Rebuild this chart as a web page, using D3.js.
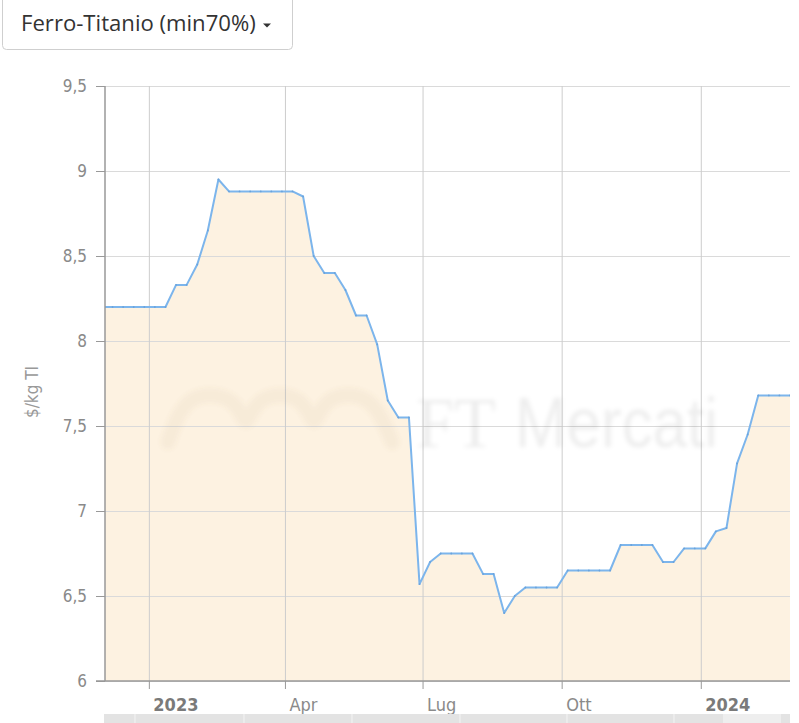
<!DOCTYPE HTML>
<html lang="it">
<head>
	<meta charset="UTF-8">
	<title>Ferro-Titanio | d3</title>
	<style>
		html, body { margin: 0; padding: 0; background: #fff; }
		svg { display: block; }
	</style>
</head>
<body>
<script src="https://d3js.org/d3.v7.min.js"></script>
<script type="text/javascript">
  // prezzi settimanali (giovedi), $/kg TI
  var weekStart = new Date(2022, 11, 1),
      weekEnd   = new Date(2024, 2, 1);

  var prices = [
    8.2, 8.2, 8.2, 8.2, 8.2,                 // dic 2022
    8.2, 8.2, 8.33, 8.33,                    // gen
    8.45, 8.65, 8.95, 8.88,                  // feb
    8.88, 8.88, 8.88, 8.88, 8.88,            // mar
    8.88, 8.85, 8.5, 8.4,                    // apr
    8.4, 8.3, 8.15, 8.15,                    // mag
    7.98, 7.65, 7.55, 7.55, 6.57,            // giu
    6.7, 6.75, 6.75, 6.75,                   // lug
    6.75, 6.63, 6.63, 6.4, 6.5,              // ago
    6.55, 6.55, 6.55, 6.55,                  // set
    6.65, 6.65, 6.65, 6.65,                  // ott
    6.65, 6.8, 6.8, 6.8, 6.8,                // nov
    6.7, 6.7, 6.78, 6.78,                    // dic
    6.78, 6.88, 6.9, 7.28,                   // gen 2024
    7.45, 7.68, 7.68, 7.68, 7.68             // feb
  ];

  var yTicks = [6, 6.5, 7, 7.5, 8, 8.5, 9, 9.5];
  var xTickDates  = [new Date(2023, 0, 1), new Date(2023, 3, 1), new Date(2023, 6, 1),
                     new Date(2023, 9, 1), new Date(2024, 0, 1)];
  var xTickLabels = ['2023', 'Apr', 'Lug', 'Ott', '2024'];
  var xTickBold   = [true, false, false, false, true];

  var weeks = d3.timeThursday.range(weekStart, weekEnd);
  var data = weeks.map(function(d, i) { return { date: d, value: prices[i] }; });

  var W = 799, H = 723,
      pL = 105, pR = 790, pT = 86, pB = 681;

  var it = d3.formatLocale({ decimal: ',', thousands: '.', grouping: [3], currency: ['', '$'] });
  var fmt = it.format('.1~f');

  var x = d3.scaleTime()
      .domain([new Date(2022, 11, 3), new Date(2024, 1, 29)])
      .range([pL, pR]);

  var y = d3.scaleLinear()
      .domain([6, 9.5])
      .range([pB, pT]);

  var axisFont = '"DejaVu Sans Condensed", "DejaVu Sans", sans-serif';

  var svg = d3.select('body').append('svg')
      .attr('width', W)
      .attr('height', H);

  var defs = svg.append('defs');

  defs.append('clipPath').attr('id', 'plot')
    .append('rect')
      .attr('x', pL).attr('y', pT - 2)
      .attr('width', pR - pL).attr('height', pB - pT + 2);

  defs.append('filter').attr('id', 'soft')
      .attr('x', '-10%').attr('y', '-20%').attr('width', '120%').attr('height', '140%')
    .append('feGaussianBlur').attr('stdDeviation', 2.2);

  // area
  var area = d3.area()
      .x(function(d) { return x(d.date); })
      .y0(y(6))
      .y1(function(d) { return y(d.value); });

  svg.append('path')
      .datum(data)
      .attr('clip-path', 'url(#plot)')
      .attr('fill', '#fdf2e1')
      .attr('d', area);

  // griglia
  svg.append('g')
      .attr('transform', 'translate(' + pL + ',0)')
      .call(d3.axisLeft(y).tickValues(yTicks).tickSize(-(pR - pL)).tickFormat(''))
      .call(function(g) {
        g.select('.domain').remove();
        g.selectAll('line').attr('stroke', '#dadada');
      });

  svg.append('g')
      .attr('transform', 'translate(0,' + pT + ')')
      .call(d3.axisBottom(x).tickValues(xTickDates).tickSize(pB - pT).tickFormat(''))
      .call(function(g) {
        g.select('.domain').remove();
        g.selectAll('line').attr('stroke', '#cdcdcd');
      });

  // watermark
  var wm = svg.append('g').attr('filter', 'url(#soft)');

  var hump = d3.line().curve(d3.curveBasis);
  var humpPts = [[168, 442], [182, 402], [210, 392], [238, 402], [246, 430],
                 [254, 402], [280, 392], [306, 402], [314, 430],
                 [322, 402], [348, 392], [376, 402], [392, 442]];
  wm.append('path')
      .attr('d', hump(humpPts))
      .attr('fill', 'none')
      .attr('stroke', 'rgba(150,120,80,0.06)')
      .attr('stroke-width', 15)
      .attr('stroke-linecap', 'round');

  wm.append('text')
      .attr('x', 416).attr('y', 447)
      .attr('textLength', 80).attr('lengthAdjust', 'spacingAndGlyphs')
      .style('font-family', '"Liberation Serif", serif')
      .style('font-size', '72px')
      .attr('fill', 'rgba(0,0,0,0.07)')
      .text('FT');

  wm.append('text')
      .attr('x', 515).attr('y', 447)
      .attr('textLength', 203).attr('lengthAdjust', 'spacingAndGlyphs')
      .style('font-family', '"Liberation Sans", sans-serif')
      .style('font-size', '70px')
      .attr('fill', 'rgba(0,0,0,0.065)')
      .text('Mercati');

  // linea
  var line = d3.line()
      .x(function(d) { return x(d.date); })
      .y(function(d) { return y(d.value); });

  var series = svg.append('g').attr('clip-path', 'url(#plot)');

  series.append('path')
      .datum(data)
      .attr('fill', 'none')
      .attr('stroke', '#7cb5ec')
      .attr('stroke-width', 2)
      .attr('stroke-linejoin', 'round')
      .attr('d', line);

  series.selectAll('circle')
      .data(data)
    .enter().append('circle')
      .attr('cx', function(d) { return x(d.date); })
      .attr('cy', function(d) { return y(d.value); })
      .attr('r', 0.9)
      .attr('fill', '#6aa3db');

  // asse y
  var yAxis = svg.append('g')
      .attr('transform', 'translate(' + pL + ',0)')
      .call(d3.axisLeft(y).tickValues(yTicks).tickSize(9).tickPadding(9).tickFormat(fmt));

  yAxis.select('.domain').attr('stroke', '#999').attr('stroke-width', 1.5)
      .attr('d', 'M0,' + pT + 'V' + pB);
  yAxis.selectAll('.tick line').attr('stroke', '#999');
  yAxis.selectAll('.tick text')
      .attr('fill', '#8a8a8a')
      .style('font-family', axisFont)
      .style('font-size', '17px');

  svg.append('text')
      .attr('transform', 'translate(38,392) rotate(-90)')
      .attr('text-anchor', 'middle')
      .attr('fill', '#999')
      .style('font-family', axisFont)
      .style('font-size', '17px')
      .text('$/kg TI');

  // asse x
  var xAxis = svg.append('g')
      .attr('transform', 'translate(0,' + pB + ')')
      .call(d3.axisBottom(x).tickValues(xTickDates).tickSize(8)
        .tickFormat(function(d, i) { return xTickLabels[i]; }));

  xAxis.select('.domain').attr('stroke', '#999').attr('stroke-width', 1.5)
      .attr('d', 'M96,0H' + pR);
  xAxis.selectAll('.tick line').attr('stroke', '#999');
  xAxis.selectAll('.tick text')
      .attr('text-anchor', 'start')
      .attr('x', 4)
      .attr('y', 30)
      .attr('dy', 0)
      .attr('fill', function(d, i) { return xTickBold[i] ? '#7a7a7a' : '#8a8a8a'; })
      .style('font-weight', function(d, i) { return xTickBold[i] ? 'bold' : 'normal'; })
      .style('font-family', axisFont)
      .style('font-size', '18px');

  // barra navigatore (parziale)
  var nav = svg.append('g');
  nav.append('rect')
      .attr('x', 104).attr('y', 714).attr('width', pR - 104).attr('height', 10)
      .attr('fill', '#e3e3e3');
  nav.append('rect')
      .attr('x', 723).attr('y', 714).attr('width', 58).attr('height', 10)
      .attr('fill', '#eeeeee');
  nav.selectAll('line')
      .data([135, 244, 352, 460, 567, 674])
    .enter().append('line')
      .attr('x1', function(d) { return d; }).attr('x2', function(d) { return d; })
      .attr('y1', 714).attr('y2', H)
      .attr('stroke', '#f4f4f4');

  // menu a tendina
  var menu = svg.append('g');
  menu.append('rect')
      .attr('x', 2.5).attr('y', -6).attr('width', 290).attr('height', 55.5).attr('rx', 4)
      .attr('fill', '#fff')
      .attr('stroke', '#cfcfcf');

  var label = menu.append('text')
      .attr('x', 21).attr('y', 31)
      .attr('fill', '#333')
      .style('font-family', '"Open Sans", "Noto Sans", sans-serif')
      .style('font-size', '20px')
      .text('Ferro-Titanio (min70%)');
  var len = label.node().getComputedTextLength();
  label.style('font-size', (20 * 235 / len).toFixed(2) + 'px');

  menu.append('path')
      .attr('d', 'M263,23.5L271,23.5L267,27.5Z')
      .attr('fill', '#333');
</script>
</body>
</html>
